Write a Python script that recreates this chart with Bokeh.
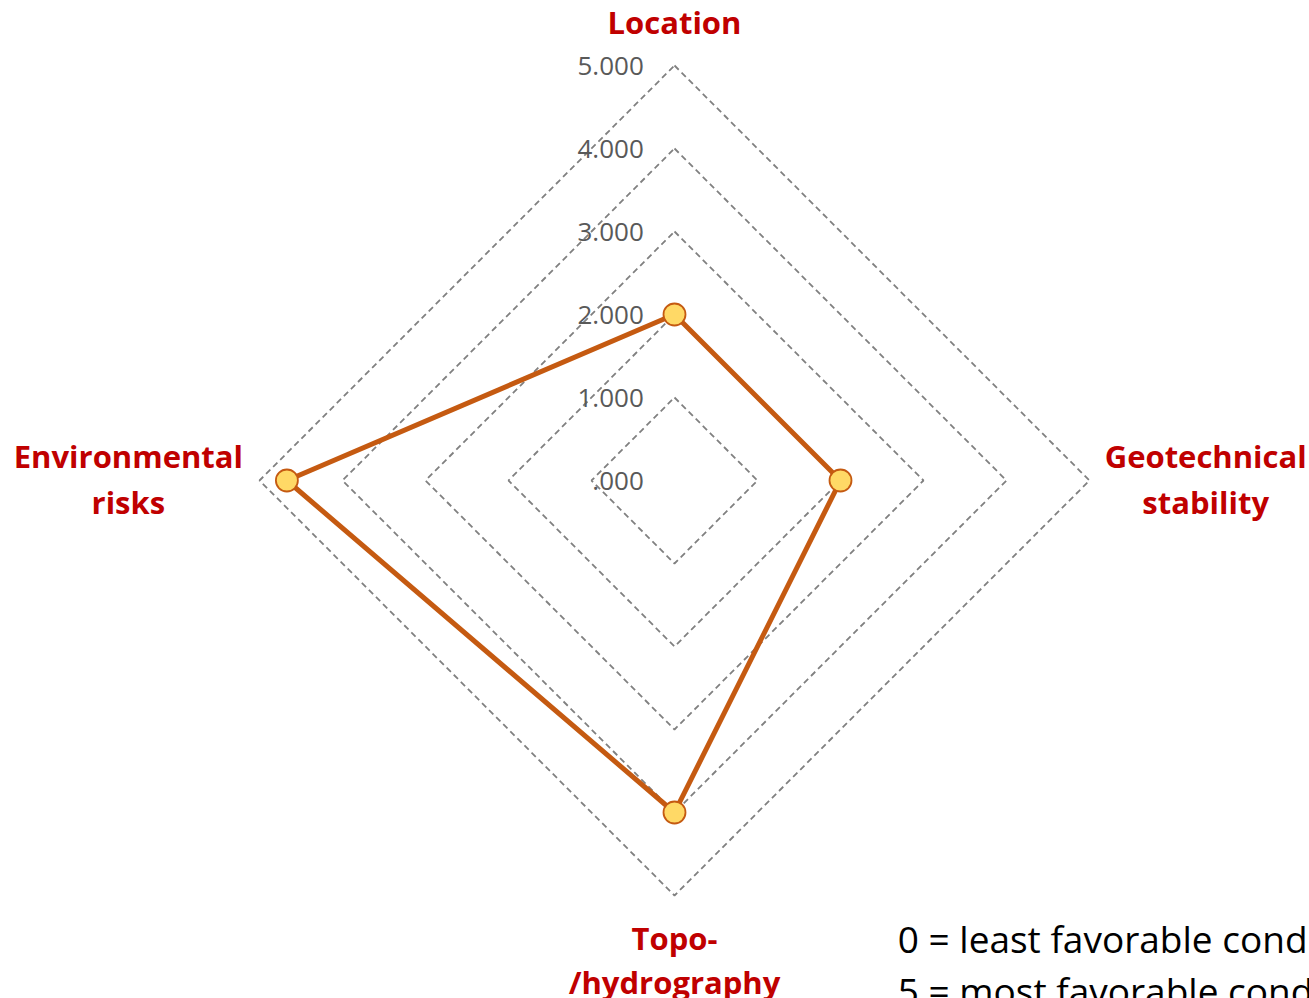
import numpy as np
from bokeh.plotting import figure
from bokeh.models import Range1d
from bokeh.core.properties import value
from bokeh.embed import file_html
from bokeh.resources import INLINE

# ---- data ----
categories = ["Location", "Geotechnical\nstability", "Topo-\n/hydrography", "Environmental\nrisks"]
scores = [2.0, 2.0, 4.0, 4.67]
levels = [1, 2, 3, 4, 5]
tick_labels = [".000", "1.000", "2.000", "3.000", "4.000", "5.000"]
note_lines = ["0 = least favorable cond", "5 = most favorable cond"]

# ---- geometry ----
W, H = 1309, 998
SCALE = 83.0          # pixels per unit
CX, CY = 674, 480     # centre in pixels
angles = np.deg2rad([90, 0, -90, 180])

p = figure(width=W, height=H, output_backend="svg", toolbar_location=None,
           x_range=Range1d(-CX / SCALE, (W - CX) / SCALE),
           y_range=Range1d(-(H - CY) / SCALE, CY / SCALE),
           min_border=0)
p.axis.visible = False
p.grid.visible = False
p.outline_line_color = None
p.background_fill_color = "white"
p.border_fill_color = "white"

FONT = "Open Sans"

# grid diamonds
for lv in levels:
    xs = list(lv * np.cos(angles)) + [lv * np.cos(angles[0])]
    ys = list(lv * np.sin(angles)) + [lv * np.sin(angles[0])]
    p.line(xs, ys, line_color="#808080", line_width=1.8, line_dash="6 4")

# tick labels
tick_vals = [0] + levels
p.text(x=[-0.37] * len(tick_vals), y=tick_vals, text=tick_labels,
       text_align="right", text_baseline="middle",
       text_font=value(FONT), text_font_size="26px", text_color="#595959")

# series
sx = [s * np.cos(a) for s, a in zip(scores, angles)]
sy = [s * np.sin(a) for s, a in zip(scores, angles)]
p.line(sx + [sx[0]], sy + [sy[0]], line_color="#C55A11", line_width=5, line_join="round")
p.scatter(sx, sy, size=22, fill_color="#FFD966", line_color="#C55A11", line_width=1.8)

# category labels
RED = "#C00000"
lab_pos = [
    (0.0, [5.52]),
    (6.40, [0.29, -0.265]),
    (0.0, [-5.51, -6.04]),
    (-6.58, [0.29, -0.265]),
]
for cat, (lx, lys) in zip(categories, lab_pos):
    parts = cat.split("\n")
    p.text(x=[lx] * len(parts), y=lys, text=parts, text_align="center",
           text_baseline="middle", text_font=value(FONT), text_font_style="bold",
           text_font_size="31px", text_color=RED)

# note
p.text(x=[2.69, 2.69], y=[-5.52, -6.14], text=note_lines, text_align="left",
       text_baseline="middle", text_font=value(FONT), text_font_size="37px",
       text_color="black")

open("out.html", "w").write(file_html(p, INLINE))
